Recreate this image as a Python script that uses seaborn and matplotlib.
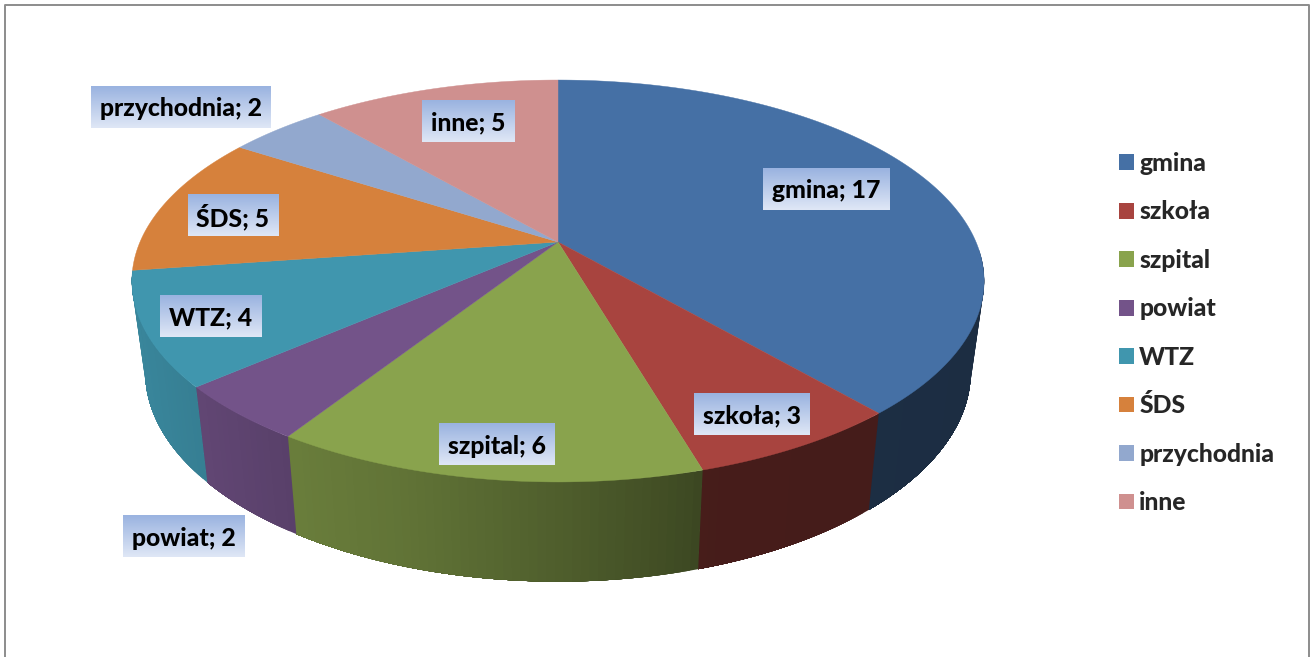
#!/usr/bin/env python3
"""3D-style pie chart (Excel look) with gradient data labels and a legend."""
import numpy as np
import matplotlib
matplotlib.use("Agg")
import matplotlib.pyplot as plt
from matplotlib.colors import LinearSegmentedColormap, to_rgb
from matplotlib.patches import Patch
import seaborn as sns

categories = ["gmina", "szkoła", "szpital", "powiat", "WTZ", "ŚDS", "przychodnia", "inne"]
values = [17, 3, 6, 2, 4, 5, 2, 5]
slice_colors = ["#4570A5", "#A8443F", "#89A34D", "#735389", "#4096AE", "#D6813C", "#92A8CE", "#CF908F"]

# label box centres in pixels
label_centers = [(826, 189), (752, 414), (497, 444), (184, 536), (211, 316), (233, 215), (181, 107), (468, 121)]

# perspective of the pie: apex, top ring and bottom ring
APEX_X, APEX_Y = 558, 242
TILT = 0.194
TOP_A, TOP_B = 418, 193.4
BOT_A, BOT_B, BOT_Y = 405, 202, 331

# wall brightness along x, light comes from the left
SHADE_X = [130, 210, 297, 420, 560, 697, 705, 990]
SHADE_F = [0.90, 0.84, 0.77, 0.70, 0.58, 0.45, 0.42, 0.40]

FONT_SIZE = 17.8

sns.set_theme(style="white")
plt.rcParams["font.family"] = ["Lato", "DejaVu Sans"]
palette = sns.color_palette(slice_colors)


def ring(theta, a, b, y0):
    den = 1 + TILT * np.cos(theta)
    return APEX_X + a * np.sin(theta) / den, y0 - b * np.cos(theta) / den


fig, ax = plt.subplots(figsize=(13.11, 6.57), dpi=100)
fig.subplots_adjust(0, 0, 1, 1)
ax.set_xlim(0, 1311)
ax.set_ylim(657, 0)
ax.axis("off")

edges = np.cumsum([0] + values) / sum(values) * 2 * np.pi

# side walls first, the top surface covers what should be hidden
for start, end, color in zip(edges[:-1], edges[1:], palette):
    lo, hi = max(start, np.radians(92)), min(end, np.radians(261.5))
    if hi <= lo:
        continue
    # each strip runs to the end of the slice so no seams show between strips
    for t0 in np.linspace(lo, hi, max(2, int((hi - lo) * 60)))[:-1]:
        t = np.linspace(t0, hi, 60)
        xt, yt = ring(t, TOP_A, TOP_B, APEX_Y)
        xb, yb = ring(t, BOT_A, BOT_B, BOT_Y)
        f = np.interp((xt[0] + xb[0]) / 2, SHADE_X, SHADE_F)
        shade = tuple(c * f for c in to_rgb(color))
        ax.fill(np.r_[xt, xb[::-1]], np.r_[yt, yb[::-1]], color=shade, lw=0, zorder=2)

# top surface
for start, end, color in zip(edges[:-1], edges[1:], palette):
    t = np.linspace(start, end, 200)
    x, y = ring(t, TOP_A, TOP_B, APEX_Y)
    ax.fill(np.r_[APEX_X, x], np.r_[APEX_Y, y], color=color, lw=0.3, zorder=3)

# data labels on gradient boxes
box_cmap = LinearSegmentedColormap.from_list("box", ["#9AB3E0", "#DFE7F6"])
grad = np.linspace(0, 1, 64).reshape(-1, 1)
renderer = fig.canvas.get_renderer()
for name, val, (cx, cy) in zip(categories, values, label_centers):
    txt = ax.text(cx, cy + 2, f"{name}; {val}", ha="center", va="center", fontsize=FONT_SIZE,
                  fontweight=900, color="black", zorder=6)
    w = txt.get_window_extent(renderer).width + 18
    ax.imshow(grad, cmap=box_cmap, aspect="auto", zorder=5,
              extent=(cx - w / 2, cx + w / 2, cy + 21, cy - 21))
ax.set_xlim(0, 1311)
ax.set_ylim(657, 0)

handles = [Patch(facecolor=c, edgecolor="none", label=n) for n, c in zip(categories, palette)]
ax.legend(handles=handles, loc="upper left", bbox_to_anchor=(1119 / 1311, 1 - 152 / 657), frameon=False,
          prop={"size": FONT_SIZE, "weight": 900}, handlelength=0.6, handleheight=0.6,
          handletextpad=0.22, labelspacing=1.03, borderpad=0, borderaxespad=0)

# chart frame, cropped at the bottom of the picture
ax.plot([4.5, 4.5, 1308.5, 1308.5], [657, 4.5, 4.5, 657], color="#8C8C8C", lw=1.4, zorder=7)

fig.savefig("out.png", dpi=100, facecolor="white")
